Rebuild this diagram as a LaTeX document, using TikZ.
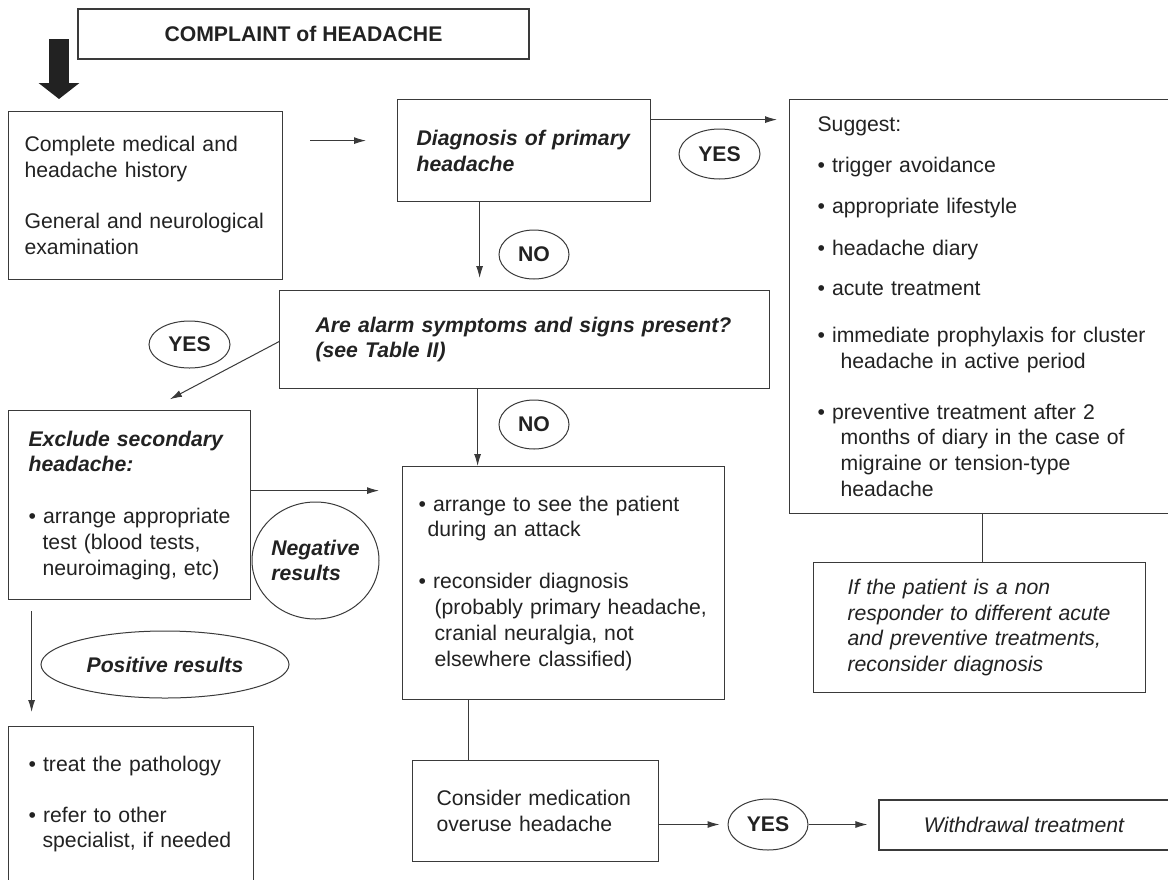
\documentclass[tikz,border=0pt]{standalone}
\usepackage{fontspec}
\setmainfont{Liberation Sans}
\usetikzlibrary{shapes.geometric,arrows.meta}
\definecolor{ink}{HTML}{222222}
\definecolor{edge}{HTML}{3A3A3A}
\newcommand{\flowfont}{\fontsize{21.2}{25.8}\selectfont}

\begin{document}
\begin{tikzpicture}[x=1pt, y=-1pt,
  every node/.style = {text=ink, font=\flowfont},
  box/.style = {rectangle, draw=edge, line width=1.2pt, anchor=north west,
    align=left, inner ysep=0pt},
  oval/.style = {ellipse, draw=edge, line width=1pt, inner sep=0pt,
    font=\flowfont\bfseries},
  arr/.style = {draw=edge, line width=1pt, -{Latex[length=12pt,width=7pt]}},
  link/.style = {draw=edge, line width=1pt},
  bigarrow/.style = {draw=ink, line width=20pt,
    -{Triangle[length=16pt,width=40pt]}}]
  \fill[white] (0,0) rectangle (1168,879);
  \useasboundingbox (0,0) rectangle (1168,879);

  % boxes
  \node[box, anchor=center, minimum width=451pt, minimum height=50pt,
    font=\flowfont\bfseries] (complaint) at (303.5,34) {COMPLAINT of HEADACHE};
  \node[box, text width=242pt, inner xsep=16pt, minimum height=168pt]
    (hist) at (8,111) {Complete medical and\\ headache history\\[25.8pt]
    General and neurological\\ examination};
  \node[box, text width=215pt, inner xsep=19pt, minimum height=102pt,
    font=\flowfont\bfseries\itshape] (diag) at (397,99)
    {Diagnosis of primary\\ headache};
  \node[box, text width=330pt, inner xsep=28pt, minimum height=414pt]
    (suggest) at (789,99) {Suggest:\\[15.2pt]
    • trigger avoidance\\[15.2pt]
    • appropriate lifestyle\\[16.2pt]
    • headache diary\\[14.2pt]
    • acute treatment\\[21.2pt]
    • immediate prophylaxis for cluster\\
    \hspace*{23pt}headache in active period\\[25.2pt]
    • preventive treatment after 2\\
    \hspace*{23pt}months of diary in the case of\\
    \hspace*{23pt}migraine or tension-type\\
    \hspace*{23pt}headache};
  \node[box, text width=418pt, inner xsep=36pt, minimum height=98pt,
    font=\flowfont\bfseries\itshape] (alarm) at (279,290)
    {Are alarm symptoms and signs present?\\ (see Table II)};
  \node[box, text width=202pt, inner xsep=20pt, minimum height=189pt]
    (excl) at (8,410) {{\bfseries\itshape Exclude secondary\\ headache:}\\[25.8pt]
    • arrange appropriate\\
    \hspace*{14pt}test (blood tests,\\
    \hspace*{14pt}neuroimaging, etc)};
  \node[box, text width=290pt, inner xsep=16pt, minimum height=233pt]
    (arrange) at (402,466) {• arrange to see the patient\\
    \hspace*{9pt}during an attack\\[26pt]
    • reconsider diagnosis\\
    \hspace*{16pt}(probably primary headache,\\
    \hspace*{16pt}cranial neuralgia, not\\
    \hspace*{16pt}elsewhere classified)};
  \node[box, text width=264pt, inner xsep=34pt, minimum height=130pt,
    font=\flowfont\itshape] (nonresp) at (813,562)
    {If the patient is a non\\ responder to different acute\\
    and preventive treatments,\\ reconsider diagnosis};
  \node[box, text width=205pt, inner xsep=20pt, minimum height=155pt]
    (treat) at (8,726) {• treat the pathology\\[25.2pt]
    • refer to other\\
    \hspace*{14pt}specialist, if needed};
  \node[box, text width=198pt, inner xsep=24pt, minimum height=101pt]
    (consider) at (412,760) {Consider medication\\ overuse headache};
  \node[box, anchor=center, minimum width=290pt, minimum height=50pt,
    font=\flowfont\itshape] (withdraw) at (1024,825) {Withdrawal treatment};

  % answers
  \node[oval, minimum width=81pt, minimum height=50pt] (yesA) at (719.5,154) {YES};
  \node[oval, minimum width=70pt, minimum height=49pt] (noA) at (534,254.5) {NO};
  \node[oval, minimum width=81pt, minimum height=47pt] (yesB) at (189.5,344.5) {YES};
  \node[oval, minimum width=70pt, minimum height=49pt] (noB) at (534,424.5) {NO};
  \node[oval, minimum width=127pt, minimum height=117pt, align=left,
    font=\flowfont\bfseries\itshape] (neg) at (315.5,560.5) {Negative\\ results};
  \node[oval, minimum width=248pt, minimum height=67pt,
    font=\flowfont\bfseries\itshape] (pos) at (165,664.5) {Positive results};
  \node[oval, minimum width=80pt, minimum height=51pt] (yesC) at (768,824.5) {YES};

  % connectors
  \coordinate (bigtail) at (59,39);
  \coordinate (yesexit) at ([yshift=31pt]diag.east);
  \coordinate (noexit) at ([xshift=-44.5pt]diag.south);
  \coordinate (noexitB) at ([xshift=-47pt]alarm.south);
  \coordinate (negexit) at ([yshift=14.5pt]excl.east);
  \coordinate (posexit) at ([xshift=-98pt]excl.south);
  \coordinate (mohexit) at ([xshift=-95pt]arrange.south);
  \draw[bigarrow, shorten >=12pt] (bigtail) -- (bigtail |- hist.north);
  \draw[arr, shorten <=27pt, shorten >=31pt]
    ([yshift=55pt]hist.east) -- ([yshift=10pt]diag.west);
  \draw[arr, shorten >=12pt] (yesexit) -- (yesexit -| suggest.west);
  \draw[arr, shorten >=12pt] (noexit) -- (noexit |- alarm.north);
  \draw[arr, shorten >=23pt] ([yshift=-2pt]alarm.west) -- ([xshift=20pt]excl.north);
  \draw[arr] (noexitB) -- (noexitB |- arrange.north);
  \draw[arr, shorten >=23pt] (negexit) -- (negexit -| arrange.west);
  \draw[arr, shorten <=11pt, shorten >=14pt] (posexit) -- (posexit |- treat.north);
  \draw[link] (mohexit) -- (mohexit |- consider.north);
  \draw[arr, shorten >=8pt] (consider.east |- yesC.west) -- (yesC.west);
  \draw[arr, shorten >=11pt] (yesC.east) -- (yesC.east -| withdraw.west);
  \draw[link] (suggest.south) -- (suggest.south |- nonresp.north);
\end{tikzpicture}
\end{document}
